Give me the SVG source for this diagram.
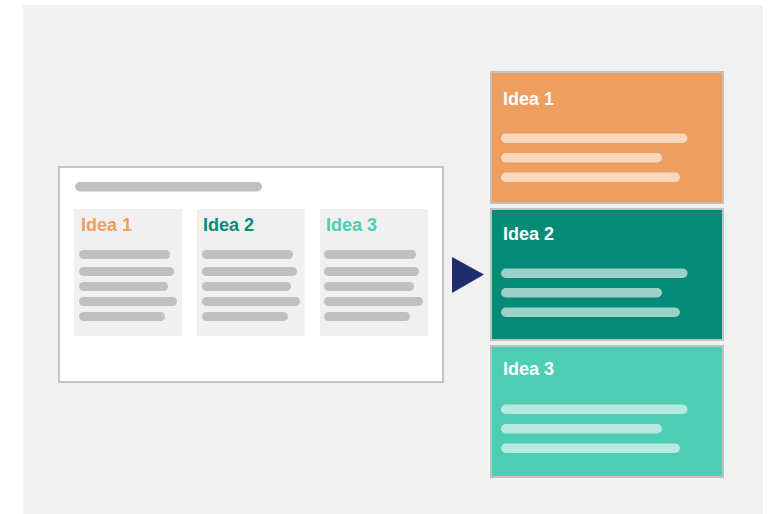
<svg xmlns="http://www.w3.org/2000/svg" width="772" height="514" viewBox="0 0 772 514">
  <style>
    .bar { fill: #c0c0c0; }
    .col { fill: #f0f0f0; }
    .lbl { font-family: "Liberation Sans", Arial, sans-serif; font-weight: bold; font-size: 18px; }
    .card { stroke: #c0c0c0; stroke-width: 2; }
    .w { fill: #ffffff; }
  </style>
  <rect x="0" y="0" width="772" height="514" fill="#ffffff"/>
  <rect x="23" y="5" width="740" height="509" fill="#f1f1f1"/>

  <!-- source document with three idea columns -->
  <g id="document">
    <rect x="59" y="167" width="384" height="215" fill="#ffffff" stroke="#c4c4c4" stroke-width="2"/>
    <rect class="bar" x="75" y="182" width="187" height="9.5" rx="4.75"/>
  </g>

  <g id="column-1">
    <rect class="col" x="74" y="209" width="108" height="127"/>
    <text class="lbl" x="81" y="231" fill="#ef9e5e">Idea 1</text>
    <rect class="bar" x="79" y="250" width="91" height="9" rx="4.5"/>
    <rect class="bar" x="79" y="267" width="95" height="9" rx="4.5"/>
    <rect class="bar" x="79" y="282" width="89" height="9" rx="4.5"/>
    <rect class="bar" x="79" y="297" width="98" height="9" rx="4.5"/>
    <rect class="bar" x="79" y="312" width="86" height="9" rx="4.5"/>
  </g>

  <g id="column-2">
    <rect class="col" x="197" y="209" width="108" height="127"/>
    <text class="lbl" x="203" y="231" fill="#068b78">Idea 2</text>
    <rect class="bar" x="202" y="250" width="91" height="9" rx="4.5"/>
    <rect class="bar" x="202" y="267" width="95" height="9" rx="4.5"/>
    <rect class="bar" x="202" y="282" width="89" height="9" rx="4.5"/>
    <rect class="bar" x="202" y="297" width="98" height="9" rx="4.5"/>
    <rect class="bar" x="202" y="312" width="86" height="9" rx="4.5"/>
  </g>

  <g id="column-3">
    <rect class="col" x="320" y="209" width="108" height="127"/>
    <text class="lbl" x="326" y="231" fill="#4ecdb4">Idea 3</text>
    <rect class="bar" x="324" y="250" width="92" height="9" rx="4.5"/>
    <rect class="bar" x="324" y="267" width="95" height="9" rx="4.5"/>
    <rect class="bar" x="324" y="282" width="90" height="9" rx="4.5"/>
    <rect class="bar" x="324" y="297" width="99" height="9" rx="4.5"/>
    <rect class="bar" x="324" y="312" width="86" height="9" rx="4.5"/>
  </g>

  <!-- transition arrow -->
  <g id="connectors">
    <polygon points="452,257 484,274.5 452,293" fill="#1f2d6c"/>
  </g>

  <!-- expanded idea cards -->
  <g id="card-1">
    <rect class="card" x="491" y="72" width="232" height="131" fill="#ee9e5e"/>
    <text class="lbl w" x="503" y="105">Idea 1</text>
    <g fill="#f8d7bd">
      <rect x="501" y="133.5" width="186.5" height="9.5" rx="4.75"/>
      <rect x="501" y="153" width="161" height="9.5" rx="4.75"/>
      <rect x="501" y="172.5" width="179" height="9.5" rx="4.75"/>
    </g>
  </g>

  <g id="card-2">
    <rect class="card" x="491" y="209" width="232" height="131" fill="#058b78"/>
    <text class="lbl w" x="503" y="240">Idea 2</text>
    <g fill="#9bd1c8">
      <rect x="501" y="268.5" width="186.5" height="9.5" rx="4.75"/>
      <rect x="501" y="288" width="161" height="9.5" rx="4.75"/>
      <rect x="501" y="307.5" width="179" height="9.5" rx="4.75"/>
    </g>
  </g>

  <g id="card-3">
    <rect class="card" x="491" y="346" width="232" height="131" fill="#4dcdb3"/>
    <text class="lbl w" x="503" y="375">Idea 3</text>
    <g fill="#b6eadf">
      <rect x="501" y="404.5" width="186.5" height="9.5" rx="4.75"/>
      <rect x="501" y="424" width="161" height="9.5" rx="4.75"/>
      <rect x="501" y="443.5" width="179" height="9.5" rx="4.75"/>
    </g>
  </g>
</svg>
